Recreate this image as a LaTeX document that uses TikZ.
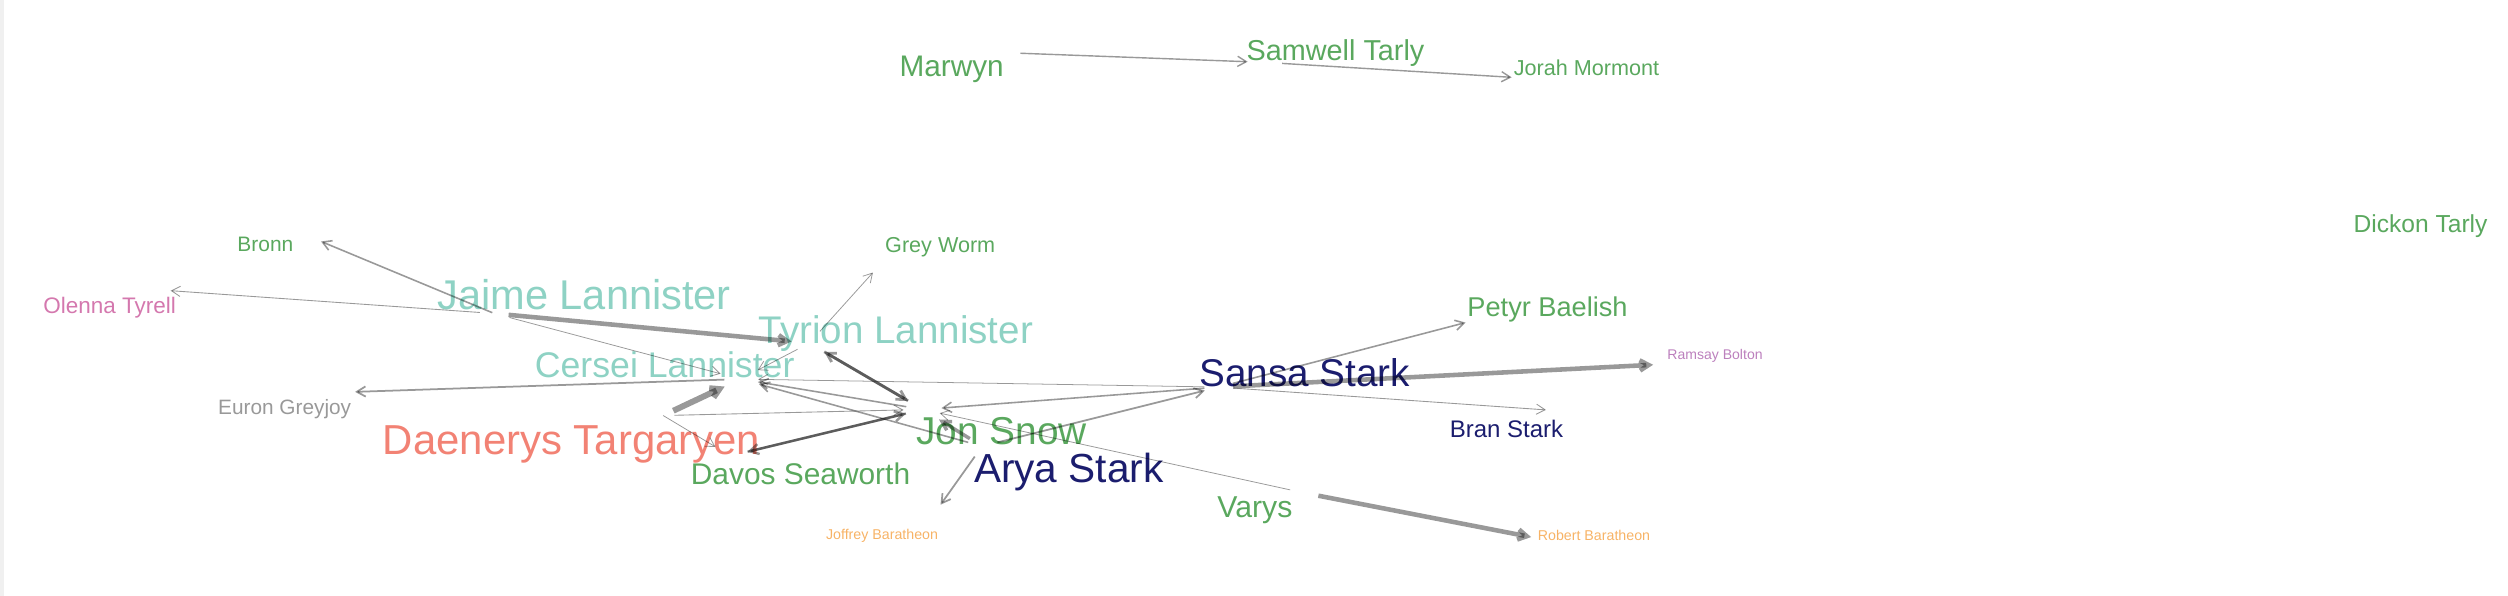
\documentclass[tikz,border=0pt]{standalone}
\usepackage{fontspec}
\setmainfont{Liberation Sans}
\usetikzlibrary{arrows.meta}
\definecolor{grn}{HTML}{5AA85E}
\definecolor{lan}{HTML}{8ED2C4}
\definecolor{tar}{HTML}{F28274}
\definecolor{stk}{HTML}{1B1D6E}
\definecolor{tyr}{HTML}{D478AE}
\definecolor{bol}{HTML}{BC80BD}
\definecolor{bar}{HTML}{F7B366}
\definecolor{gry}{HTML}{999999}

\begin{document}
\begin{tikzpicture}[x=0.016cm, y=-0.016cm,
    lab/.style={anchor=base west, inner sep=0pt, font=\fontsize{#1pt}{#1pt}\selectfont},
    con/.style={draw=black, draw opacity=.4, line width=#1, shorten <=4.1pt, shorten >=4.1pt, -{Straight Barb[length=2.5pt,width=2.9pt]}}]
        \useasboundingbox (0,0) rectangle (1568,372.6);
        \fill[black!6] (0,0) rectangle (2.5,372.6);

        \coordinate (marwyn) at (627.2,32.9);
        \coordinate (samwell) at (790.8,39);
        \coordinate (jorah) at (955.8,49);
        \coordinate (bronn) at (192.4,147.5);
        \coordinate (olenna) at (97.7,181.1);
        \coordinate (jaime) at (309,196);
        \coordinate (greyworm) at (551.8,163.7);
        \coordinate (tyrion) at (506,214.5);
        \coordinate (cersei) at (463,237);
        \coordinate (euron) at (213,245.3);
        \coordinate (daenerys) at (414.6,259.8);
        \coordinate (davos) at (456.7,285);
        \coordinate (jon) at (577,256);
        \coordinate (arya) at (614,279);
        \coordinate (joffrey) at (582.8,322.9);
        \coordinate (sansa) at (762,242);
        \coordinate (petyr) at (925,199.4);
        \coordinate (ramsay) at (1042.5,227.6);
        \coordinate (bran) at (975.5,256.9);
        \coordinate (varys) at (815.4,308.2);
        \coordinate (robert) at (966.1,337.5);

        \node[lab=8.47, text=grn] (marwynT) at (562,47.9) {Marwyn};
        \node[lab=8.2, text=grn] (samwellT) at (779,37.6) {Samwell Tarly};
        \node[lab=6.15, text=grn] (jorahT) at (946,47.4) {Jorah Mormont};
        \node[lab=7.0, text=grn] (dickonT) at (1471,145.2) {Dickon Tarly};
        \node[lab=5.96, text=grn] (bronnT) at (148,157) {Bronn};
        \node[lab=6.15, text=grn] (greywormT) at (553,158) {Grey Worm};
        \node[lab=6.4, text=tyr] (olennaT) at (26.7,195.7) {Olenna Tyrell};
        \node[lab=11.84, text=lan] (jaimeT) at (273,193.7) {Jaime Lannister};
        \node[lab=10.97, text=lan] (tyrionT) at (474,214.5) {Tyrion Lannister};
        \node[lab=7.74, text=grn] (petyrT) at (917,197.8) {Petyr Baelish};
        \node[lab=10.15, text=lan] (cerseiT) at (334,235.8) {Cersei Lannister};
        \node[lab=4.0, text=bol] (ramsayT) at (1042,224.9) {Ramsay Bolton};
        \node[lab=11.0, text=stk] (sansaT) at (749.5,241.6) {Sansa Stark};
        \node[lab=5.92, text=gry] (euronT) at (136,259.3) {Euron Greyjoy};
        \node[lab=6.83, text=stk] (branT) at (906,273.4) {Bran Stark};
        \node[lab=11.06, text=grn] (jonT) at (572.5,278) {Jon Snow};
        \node[lab=11.93, text=tar] (daenerysT) at (239,284) {Daenerys Targaryen};
        \node[lab=8.51, text=grn] (davosT) at (431.5,302.6) {Davos Seaworth};
        \node[lab=11.56, text=stk] (aryaT) at (608.5,301.5) {Arya Stark};
        \node[lab=8.6, text=grn] (varysT) at (760.7,323.8) {Varys};
        \node[lab=4.05, text=bar] (joffreyT) at (516,337) {Joffrey Baratheon};
        \node[lab=4.05, text=bar] (robertT) at (961,337.8) {Robert Baratheon};

        \draw[con=0.4pt, shorten <=4.9pt, shorten >=4.9pt] (marwyn) -- (samwell);
        \draw[con=0.4pt, shorten <=4.9pt, shorten >=4.9pt] (samwell) -- (jorah);
        \draw[con=0.45pt, shorten <=0.6pt] (jaime) -- (bronn);
        \draw[con=0.25pt] (jaime) -- (olenna);
        \draw[con=1.3pt, shorten >=5.1pt] (jaime) -- (tyrion);
        \draw[con=0.22pt, shorten <=4.5pt, shorten >=5.9pt] (jaime) -- (cersei);
        \draw[con=0.22pt, shorten <=3.8pt, shorten >=5.5pt] (tyrion) -- (cersei);
        \draw[con=0.22pt, shorten <=4.5pt] (tyrion) -- (greyworm);
        \draw[con=0.8pt, shorten <=4.9pt, shorten >=4.9pt] (tyrion) -- (jon);
        \draw[con=0.8pt, shorten <=4.9pt, shorten >=4.9pt] (jon) -- (tyrion);
        \draw[con=0.5pt, shorten <=4.6pt] (cersei) -- (euron);
        \draw[con=1.7pt, shorten <=3.2pt, shorten >=5pt] (daenerys) -- (cersei);
        \draw[con=0.25pt, shorten <=3.2pt, shorten >=5.5pt] (daenerys) -- (jon);
        \draw[con=0.22pt, shorten <=0pt, shorten >=5pt] (daenerys) -- (davos);
        \draw[con=0.45pt, shorten <=4.8pt, shorten >=5pt] (jon) -- (cersei);
        \draw[con=0.7pt, shorten <=5pt, shorten >=5pt] (jon) -- (davos);
        \draw[con=0.7pt, shorten <=5pt, shorten >=5pt] (davos) -- (jon);
        \draw[con=0.22pt, shorten >=5pt] (sansa) -- (cersei);
        \draw[con=0.45pt, shorten >=5.3pt] (sansa) -- (jon);
        \draw[con=0.5pt, shorten <=4.5pt] (arya) -- (sansa);
        \draw[con=0.45pt, shorten >=5.5pt] (arya) -- (cersei);
        \draw[con=1.0pt, shorten >=5.4pt] (arya) -- (jon);
        \draw[con=0.5pt, shorten <=3.6pt] (arya) -- (joffrey);
        \draw[con=0.22pt, shorten >=4.9pt] (varys) -- (jon);
        \draw[con=1.3pt] (varys) -- (robert);
        \draw[con=0.45pt] (sansa) -- (petyr);
        \draw[con=1.3pt] (sansa) -- (ramsay);
        \draw[con=0.25pt] (sansa) -- (bran);

\end{tikzpicture}
\end{document}
